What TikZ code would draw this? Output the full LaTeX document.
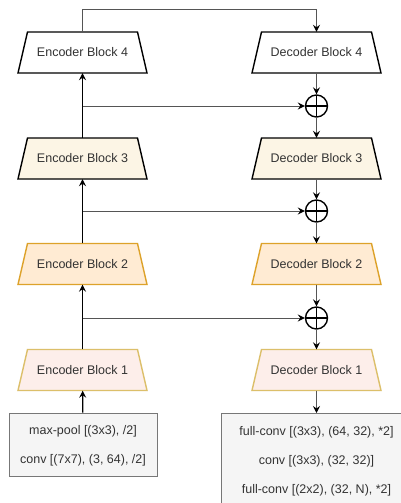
\documentclass[tikz,border=0pt]{standalone}
\usepackage{fontspec}
\setmainfont{Liberation Sans}
\usetikzlibrary{arrows.meta,calc}
\definecolor{txt}{HTML}{333333}
\definecolor{creamfill}{HTML}{FCF5E5}
\definecolor{orangefill}{HTML}{FFEBD3}
\definecolor{orangedraw}{HTML}{DDA22A}
\definecolor{pinkfill}{HTML}{FDEEEA}
\definecolor{yellowdraw}{HTML}{DCBF6A}
\definecolor{boxfill}{HTML}{F5F5F5}
\definecolor{boxdraw}{HTML}{777777}
\definecolor{skipgray}{HTML}{555555}
\newcommand{\trapblock}[6]{%
  \filldraw[fill=#4, draw=#5, line width=1.4pt, line join=miter]
    (#2-64.5,#3+20.5) -- (#2-55,#3-20.5) -- (#2+55,#3-20.5) -- (#2+64.5,#3+20.5) -- cycle;
  \node[blk] (#1) at (#2,#3) {#6};}
\tikzset{
  blk/.style={rectangle, minimum width=129pt, minimum height=41pt, inner sep=0pt,
    font=\fontsize{12.5}{15}\selectfont, text=txt},
  lbl/.style={inner sep=0pt, font=\fontsize{12.5}{15}\selectfont, text=txt},
  infobox/.style={rectangle, draw=boxdraw, fill=boxfill, line width=1pt, inner sep=0pt},
  plusnode/.style={circle, draw=black, line width=1.4pt, minimum size=22pt, inner sep=0pt,
    path picture={\draw[line width=1.2pt] (path picture bounding box.north) -- (path picture bounding box.south)
      (path picture bounding box.west) -- (path picture bounding box.east);}},
  mainarrow/.style={draw=black, line width=1.3pt, -{Stealth[length=7pt,width=7pt,inset=2.5pt]}},
  decarrow/.style={draw=skipgray, line width=1pt, -{Stealth[length=7pt,width=7pt,inset=2.5pt,color=black]}},
  skipline/.style={draw=skipgray, line width=1pt, -{Stealth[length=7pt,width=7pt,inset=2.5pt,color=black]}},
}
\begin{document}
\begin{tikzpicture}[x=1pt,y=-1pt]
\clip (0,0) rectangle (401,503);
\fill[white] (0,0) rectangle (401,503);

% encoder
\trapblock{e4}{82.5}{52.5}{white}{black}{Encoder Block 4}
\trapblock{e3}{82.5}{158.5}{creamfill}{black}{Encoder Block 3}
\trapblock{e2}{82.5}{264}{orangefill}{orangedraw}{Encoder Block 2}
\trapblock{e1}{82.5}{370}{pinkfill}{yellowdraw}{Encoder Block 1}
\node[infobox, minimum width=148pt, minimum height=63pt] (ebox) at (83,444.5) {};
\node[lbl] (et1) at (83,431) {max-pool [(3x3), /2]};
\node[lbl] (et2) at (83,460) {conv [(7x7), (3, 64), /2]};

% decoder
\trapblock{d4}{316.5}{52.5}{white}{black}{Decoder Block 4}
\trapblock{d3}{316.5}{158.5}{creamfill}{black}{Decoder Block 3}
\trapblock{d2}{316.5}{264}{orangefill}{orangedraw}{Decoder Block 2}
\trapblock{d1}{316.5}{370}{pinkfill}{yellowdraw}{Decoder Block 1}
\node[infobox, minimum width=190pt, minimum height=110pt, anchor=north] (dbox) at (316.5,413) {};
\node[lbl] (dt1) at (316.5,432) {full-conv [(3x3), (64, 32), *2]};
\node[lbl] (dt2) at (316.5,461) {conv [(3x3), (32, 32)]};
\node[lbl] (dt3) at (316.5,490) {full-conv [(2x2), (32, N), *2]};

% adders
\node[plusnode] (p1) at (316.5,106) {};
\node[plusnode] (p2) at (316.5,211) {};
\node[plusnode] (p3) at (316.5,318) {};

% branch points
\coordinate (b1) at (82.5,106);
\coordinate (b2) at (82.5,211);
\coordinate (b3) at (82.5,318);
\coordinate (t1) at (82.5,10);
\coordinate (t2) at (316.5,10);

% encoder path
\draw[mainarrow] (ebox) -- (e1);
\draw[mainarrow] (e1) -- (e2);
\draw[mainarrow] (e2) -- (e3);
\draw[mainarrow] (e3) -- (e4);

% skips
\draw[skipline] (b3) -- (p3);
\draw[skipline] (b2) -- (p2);
\draw[skipline] (b1) -- (p1);
\draw[skipline] (e4.north) -- (t1) -- (t2) -- (d4.north);

% decoder path
\draw[decarrow] (d4) -- (p1);
\draw[decarrow] (p1) -- (d3);
\draw[decarrow] (d3) -- (p2);
\draw[decarrow] (p2) -- (d2);
\draw[decarrow] (d2) -- (p3);
\draw[decarrow] (p3) -- (d1);
\draw[decarrow] (d1) -- (dbox);
\end{tikzpicture}
\end{document}
